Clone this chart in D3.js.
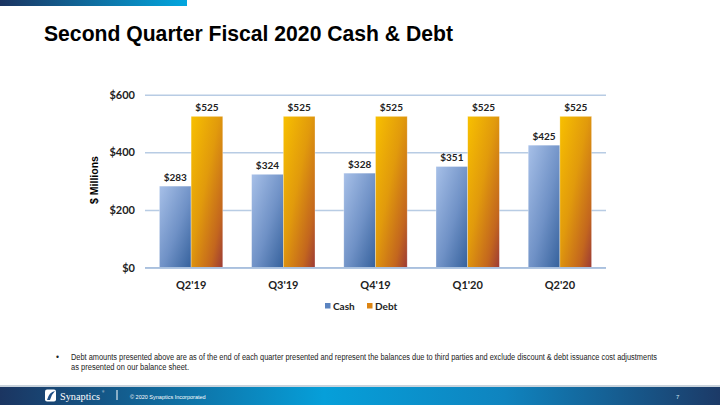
<!DOCTYPE html>
<html>
<head>
<meta charset="utf-8">
<script src="https://cdn.jsdelivr.net/npm/d3@7"></script>
<style>
  body { margin: 0; background: #fff; }
  svg { display: block; }
</style>
</head>
<body>
<svg width="720" height="405"></svg>
<script>
// chart values
const quarters = ["Q2'19", "Q3'19", "Q4'19", "Q1'20", "Q2'20"];
const cash = [283, 324, 328, 351, 425];
const debt = [525, 525, 525, 525, 525];
const seriesNames = ['Cash', 'Debt'];
const yTicks = [0, 200, 400, 600];

const svg = d3.select('svg');
const defs = svg.append('defs');

function grad(id, stops, x1, y1, x2, y2) {
  const g = defs.append('linearGradient').attr('id', id)
    .attr('x1', x1).attr('y1', y1).attr('x2', x2).attr('y2', y2);
  stops.forEach(s => g.append('stop').attr('offset', s[0]).attr('stop-color', s[1]));
}
grad('topbar', [[0, '#1b3461'], [1, '#02a7df']], 0, 0, 1, 0);
grad('footer', [[0, '#1b3561'], [0.45, '#069fd9'], [0.7, '#0f84bf'], [1, '#1c3a67']], 0, 0, 1, 0);
grad('cashFill', [[0, '#a7c0e8'], [0.55, '#6f91c6'], [1, '#35619c']], 0, 0, 1, 1);
grad('debtFill', [[0, '#f8c000'], [0.45, '#e19a0c'], [0.8, '#c3661e'], [1, '#9c3a36']], 0, 0, 1, 1);

// header bar and title
svg.append('rect').attr('x', 0).attr('y', 0).attr('width', 187).attr('height', 6)
  .attr('fill', 'url(#topbar)');
svg.append('text').attr('x', 44).attr('y', 41)
  .attr('font-family', 'Liberation Sans, Arial, sans-serif')
  .attr('font-weight', 'bold').attr('font-size', 22.5)
  .attr('textLength', 409).attr('lengthAdjust', 'spacingAndGlyphs')
  .attr('fill', '#000')
  .text('Second Quarter Fiscal 2020 Cash & Debt');

// chart area
const x0 = d3.scaleBand().domain(quarters).range([145, 606])
  .paddingInner(0.3125).paddingOuter(0.15625);
const x1 = d3.scaleBand().domain(seriesNames).range([0, x0.bandwidth()]);
const y = d3.scaleLinear().domain([0, 600]).range([267.7, 94.7]);
const labelFont = 'Lato, Open Sans, sans-serif';

const yAxis = svg.append('g').attr('transform', 'translate(145,0)')
  .call(d3.axisLeft(y).tickValues(yTicks).tickSize(-461).tickPadding(10)
    .tickFormat(d => '$' + d));
yAxis.select('.domain').remove();
yAxis.selectAll('.tick line').attr('stroke', '#b8cce4').attr('stroke-width', 1.5);
yAxis.selectAll('.tick text')
  .attr('font-family', labelFont).attr('font-weight', 'bold')
  .attr('font-size', 11).attr('fill', '#222');

svg.append('text')
  .attr('transform', 'translate(98,180) rotate(-90)')
  .attr('text-anchor', 'middle')
  .attr('font-family', 'Liberation Sans, Arial, sans-serif')
  .attr('font-weight', 'bold').attr('font-size', 10.5).attr('fill', '#000')
  .text('$ Millions');

const rows = quarters.map((q, i) => ({ q, vals: [
  { s: 'Cash', v: cash[i] }, { s: 'Debt', v: debt[i] }] }));

const groups = svg.selectAll('.grp').data(rows).enter().append('g')
  .attr('class', 'grp')
  .attr('transform', d => `translate(${x0(d.q)},0)`);

groups.selectAll('rect').data(d => d.vals).enter().append('rect')
  .attr('x', d => x1(d.s))
  .attr('y', d => y(d.v))
  .attr('width', x1.bandwidth())
  .attr('height', d => y(0) - y(d.v))
  .attr('fill', d => d.s === 'Cash' ? 'url(#cashFill)' : 'url(#debtFill)')
  .attr('stroke', 'rgba(255,255,255,0.5)').attr('stroke-width', 0.6);

groups.selectAll('.val').data(d => d.vals).enter().append('text')
  .attr('class', 'val')
  .attr('x', d => x1(d.s) + x1.bandwidth() / 2)
  .attr('y', d => y(d.v) - 5)
  .attr('text-anchor', 'middle')
  .attr('font-family', labelFont).attr('font-weight', 'bold')
  .attr('font-size', 10).attr('fill', '#222')
  .text(d => '$' + d.v);

const xAxis = svg.append('g').attr('transform', `translate(0,${y(0)})`)
  .call(d3.axisBottom(x0).tickSize(0).tickPadding(14));
xAxis.select('.domain').attr('stroke', '#a9c0de').attr('stroke-width', 1.5)
  .attr('d', 'M145,0H606');
xAxis.selectAll('.tick text')
  .attr('font-family', labelFont).attr('font-weight', 'bold')
  .attr('font-size', 11).attr('fill', '#222');

// legend
const legend = svg.append('g').attr('transform', 'translate(325,306)');
const legX = [0, 42];
seriesNames.forEach((s, i) => {
  const g = legend.append('g').attr('transform', `translate(${legX[i]},0)`);
  g.append('rect').attr('x', 0).attr('y', -3).attr('width', 5.5).attr('height', 5.5)
    .attr('fill', i === 0 ? '#5b84c0' : '#dc8412');
  g.append('text').attr('x', 8).attr('y', 3.5)
    .attr('font-family', labelFont).attr('font-weight', 'bold')
    .attr('font-size', 10).attr('fill', '#222').text(s);
});

// footnote
const note = svg.append('g').attr('font-family', 'Liberation Sans Narrow, Liberation Sans, Arial, sans-serif')
  .attr('font-size', 8.5).attr('fill', '#222');
note.append('text').attr('x', 56).attr('y', 360).text('•');
note.append('text').attr('x', 71).attr('y', 360)
  .attr('textLength', 586).attr('lengthAdjust', 'spacingAndGlyphs')
  .text('Debt amounts presented above are as of the end of each quarter presented and represent the balances due to third parties and exclude discount & debt issuance cost adjustments');
note.append('text').attr('x', 71).attr('y', 369.5)
  .attr('textLength', 118).attr('lengthAdjust', 'spacingAndGlyphs')
  .text('as presented on our balance sheet.');

// footer
svg.append('rect').attr('x', 0).attr('y', 385).attr('width', 720).attr('height', 2)
  .attr('fill', '#c9d3dc');
svg.append('rect').attr('x', 0).attr('y', 387).attr('width', 720).attr('height', 18)
  .attr('fill', 'url(#footer)');
svg.append('rect').attr('x', 45).attr('y', 389.5).attr('width', 11).attr('height', 12)
  .attr('rx', 2).attr('fill', '#fff');
svg.append('path').attr('d', 'M47,400 Q49,392 55,391 Q51,395 50,400 Z')
  .attr('fill', '#1f4f86');
svg.append('text').attr('x', 60).attr('y', 399.5)
  .attr('font-family', 'Liberation Serif, serif').attr('font-size', 11)
  .attr('textLength', 40).attr('lengthAdjust', 'spacingAndGlyphs')
  .attr('fill', '#fff').text('Synaptics');
svg.append('text').attr('x', 102).attr('y', 393)
  .attr('font-family', 'Liberation Serif, serif').attr('font-size', 3)
  .attr('fill', '#fff').text('®');
svg.append('rect').attr('x', 116.5).attr('y', 390).attr('width', 1).attr('height', 10)
  .attr('fill', '#fff');
svg.append('text').attr('x', 130).attr('y', 398.5)
  .attr('font-family', 'Liberation Sans, Arial, sans-serif').attr('font-size', 5.5)
  .attr('fill', '#fff').text('© 2020 Synaptics Incorporated');
svg.append('text').attr('x', 676).attr('y', 398.5)
  .attr('font-family', 'Liberation Sans, Arial, sans-serif').attr('font-size', 6)
  .attr('fill', '#cfe3f3').text('7');
</script>
</body>
</html>
